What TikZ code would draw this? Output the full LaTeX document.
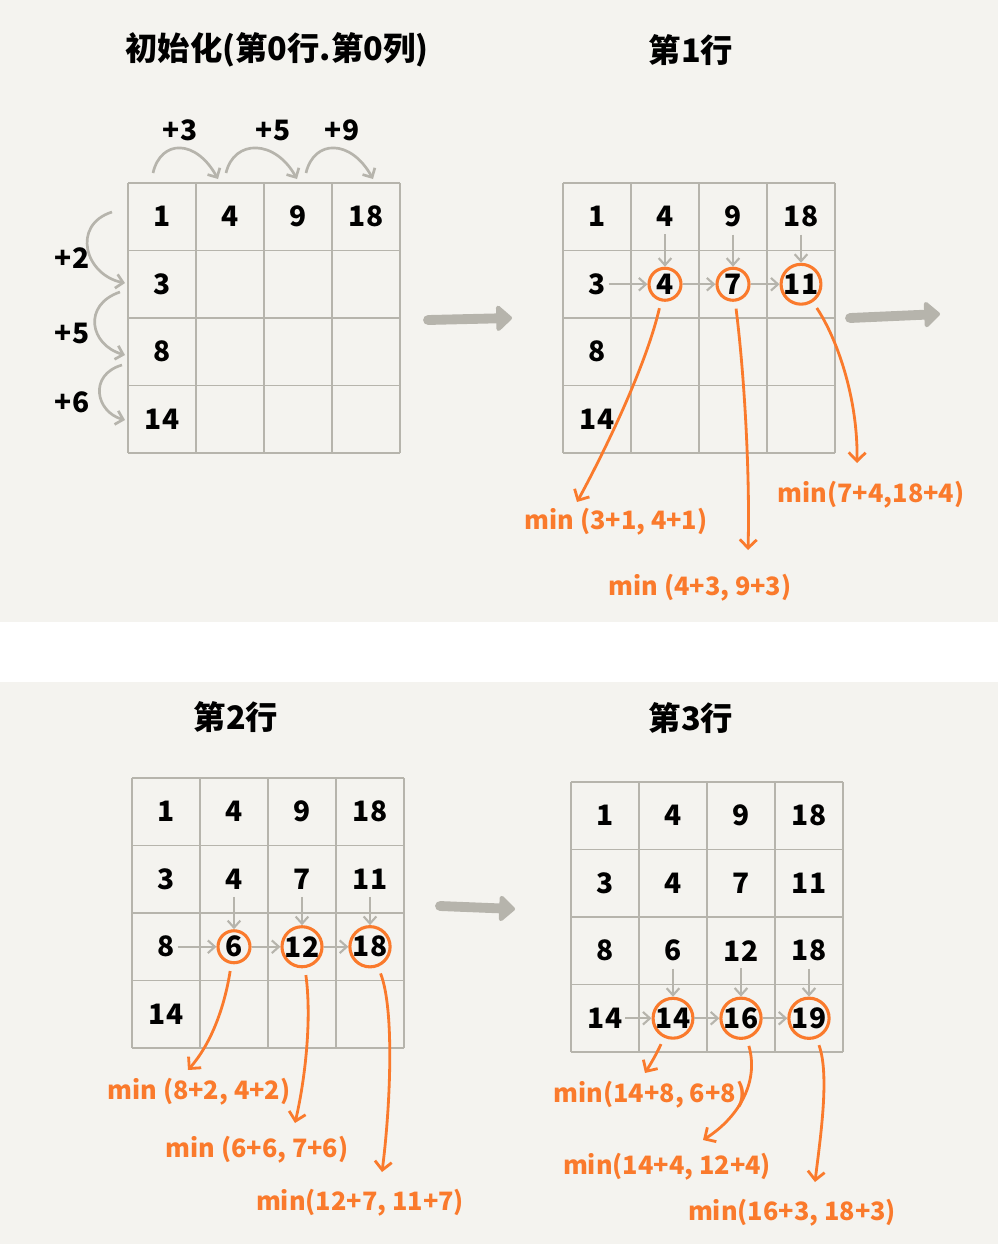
\documentclass[tikz,border=0pt]{standalone}
\usepackage{fontspec}
\setmainfont{Noto Sans CJK SC}
\usepackage{tikz}
\usetikzlibrary{arrows.meta}
\definecolor{paper}{HTML}{F4F3EF}
\definecolor{linegray}{HTML}{B6B4AC}
\definecolor{pen}{HTML}{FA7A2C}
\tikzset{>={Straight Barb[length=5pt,width=9pt]}}

\begin{document}
\begin{tikzpicture}[x=0.025cm,y=-0.025cm,
  num/.style={font=\fontsize{20}{24}\selectfont\bfseries,inner sep=2pt},
  best/.style={num,circle,draw=pen,line width=2.2pt,inner sep=0pt,minimum size=0.8cm},
  hop/.style={->,linegray,line width=1.5pt},
  swing/.style={->,linegray,line width=1.9pt,>={Straight Barb[length=5pt,width=10pt]}},
  minpath/.style={->,pen,line width=2pt,shorten <=5pt,>={Straight Barb[length=6pt,width=12pt]}},
  minlabel/.style={pen,font=\fontsize{18}{21}\selectfont\bfseries,inner sep=1pt},
  head/.style={font=\fontsize{23}{27}\selectfont\bfseries,inner sep=1pt},
  bigarrow/.style={-{Triangle[length=12pt,width=21pt,round]},linegray,line width=7pt,line cap=round}]
  \useasboundingbox (0,0) rectangle (998,1244);

  % PAPER
  \fill[white] (0,0) rectangle (998,1244);
  \fill[paper] (0,0) rectangle (998,622);
  \fill[paper] (0,682) rectangle (998,1244);

  % USER SETTINGS
  \def\cw{68}   % cell width
  \def\ch{67.5} % cell height

  % HELP FUNCTION
  \def\board(#1,#2,#3){ % name, left, top
    \foreach \k in {0,...,4}{
      \draw[linegray,line width=1.4pt] ({#2+\k*\cw},#3) -- ({#2+\k*\cw},{#3+4*\ch});
      \draw[linegray,line width=1.4pt] (#2,{#3+\k*\ch}) -- ({#2+4*\cw},{#3+\k*\ch});
    }
    \foreach \r in {0,...,3}
      \foreach \c in {0,...,3}
        \coordinate (#1-\r-\c) at ({#2+(\c+0.5)*\cw},{#3+(\r+0.5)*\ch});
  }

  % TITLES
  \node[head] (t1) at (277,50) {初始化(第0行.第0列)};
  \node[head] (t2) at (691,50) {第1行};
  \node[head] (t3) at (236,717) {第2行};
  \node[head] (t4) at (691,718) {第3行};

  % BOARDS
  \board(g1,128,183)
  \board(g2,563,183)
  \board(g3,132,778)
  \board(g4,571,782)

  % INIT (row 0, column 0)
  \foreach \r/\c/\v in {0/0/1,0/1/4,0/2/9,0/3/18,1/0/3,2/0/8,3/0/14}
    \node[num] (n1-\r-\c) at (g1-\r-\c) {\v};
  \foreach \a/\b/\v/\x/\i in {153/218/+3/180/1, 226/297/+5/273/2, 306/373/+9/342/3}{
    \coordinate (s\i) at (\a,173);
    \coordinate (e\i) at (\b,179);
    \draw[swing] (s\i) .. controls ({\a+8},139) and ({\b-22},139) .. (e\i);
    \node[num] (top\i) at (\x,130) {\v};
  }
  \coordinate (l1) at (112,212); \coordinate (m1) at (125,283);
  \coordinate (l2) at (120,292); \coordinate (m2) at (125,355);
  \coordinate (l3) at (122,365); \coordinate (m3) at (125,420);
  \draw[swing] (l1) .. controls (71,225) and (85,275) .. (m1);
  \draw[swing] (l2) .. controls (82,305) and (90,345) .. (m2);
  \draw[swing] (l3) .. controls (88,375) and (96,412) .. (m3);
  \node[num] (left1) at (72,258) {+2};
  \node[num] (left2) at (72,333) {+5};
  \node[num] (left3) at (72,402) {+6};

  % ROW 1
  \foreach \r/\c/\v in {0/0/1,0/1/4,0/2/9,0/3/18,1/0/3,2/0/8,3/0/14}
    \node[num] (n2-\r-\c) at (g2-\r-\c) {\v};
  \foreach \c/\v in {1/4,2/7,3/11}{
    \node[best] (p2-1-\c) at (g2-1-\c) {\v};
    \draw[hop,shorten <=3pt] (n2-0-\c) -- (p2-1-\c);
  }
  \draw[hop] (n2-1-0) -- (p2-1-1);
  \draw[hop] (p2-1-1) -- (p2-1-2);
  \draw[hop] (p2-1-2) -- (p2-1-3);
  \coordinate (a1) at (577,502);
  \coordinate (a2) at (748,550);
  \coordinate (a3) at (857,463);
  \draw[minpath] (p2-1-1) .. controls (645,370) and (600,460) .. (a1);
  \draw[minpath] (p2-1-2) .. controls (745,380) and (750,480) .. (a2);
  \draw[minpath] (p2-1-3) .. controls (838,340) and (858,400) .. (a3);
  \node[minlabel] (f1) at (616,522) {min (3+1, 4+1)};
  \node[minlabel] (f2) at (700,588) {min (4+3, 9+3)};
  \node[minlabel] (f3) at (871,495) {min(7+4,18+4)};

  % ROW 2
  \foreach \r/\c/\v in {0/0/1,0/1/4,0/2/9,0/3/18,1/0/3,1/1/4,1/2/7,1/3/11,2/0/8,3/0/14}
    \node[num] (n3-\r-\c) at (g3-\r-\c) {\v};
  \foreach \c/\v in {1/6,2/12,3/18}{
    \node[best] (p3-2-\c) at (g3-2-\c) {\v};
    \draw[hop,shorten <=3pt] (n3-1-\c) -- (p3-2-\c);
  }
  \draw[hop] (n3-2-0) -- (p3-2-1);
  \draw[hop] (p3-2-1) -- (p3-2-2);
  \draw[hop] (p3-2-2) -- (p3-2-3);
  \coordinate (b1) at (188,1070);
  \coordinate (b2) at (295,1123);
  \coordinate (b3) at (382,1172);
  \draw[minpath] (p3-2-1) .. controls (224,1010) and (210,1045) .. (b1);
  \draw[minpath] (p3-2-2) .. controls (312,1020) and (305,1080) .. (b2);
  \draw[minpath] (p3-2-3) .. controls (395,1010) and (390,1110) .. (b3);
  \node[minlabel] (h1) at (199,1092) {min (8+2, 4+2)};
  \node[minlabel] (h2) at (257,1150) {min (6+6, 7+6)};
  \node[minlabel] (h3) at (360,1203) {min(12+7, 11+7)};

  % ROW 3
  \foreach \r/\c/\v in {0/0/1,0/1/4,0/2/9,0/3/18,1/0/3,1/1/4,1/2/7,1/3/11,2/0/8,2/1/6,2/2/12,2/3/18,3/0/14}
    \node[num] (n4-\r-\c) at (g4-\r-\c) {\v};
  \foreach \c/\v in {1/14,2/16,3/19}{
    \node[best] (p4-3-\c) at (g4-3-\c) {\v};
    \draw[hop,shorten <=3pt] (n4-2-\c) -- (p4-3-\c);
  }
  \draw[hop] (n4-3-0) -- (p4-3-1);
  \draw[hop] (p4-3-1) -- (p4-3-2);
  \draw[hop] (p4-3-2) -- (p4-3-3);
  \coordinate (c1) at (645,1073);
  \coordinate (c2) at (703,1140);
  \coordinate (c3) at (815,1182);
  \draw[minpath] (p4-3-1) .. controls (656,1055) and (650,1065) .. (c1);
  \draw[minpath] (p4-3-2) .. controls (760,1085) and (735,1120) .. (c2);
  \draw[minpath] (p4-3-3) .. controls (830,1075) and (820,1140) .. (c3);
  \node[minlabel] (k1) at (650,1095) {min(14+8, 6+8)};
  \node[minlabel] (k2) at (667,1167) {min(14+4, 12+4)};
  \node[minlabel] (k3) at (792,1213) {min(16+3, 18+3)};

  % STEPS
  \coordinate (go1) at (428,320); \coordinate (to1) at (512,318);
  \coordinate (go2) at (850,318); \coordinate (to2) at (940,314);
  \coordinate (go3) at (440,906); \coordinate (to3) at (515,909);
  \draw[bigarrow] (go1) -- (to1);
  \draw[bigarrow] (go2) -- (to2);
  \draw[bigarrow] (go3) -- (to3);
\end{tikzpicture}
\end{document}
